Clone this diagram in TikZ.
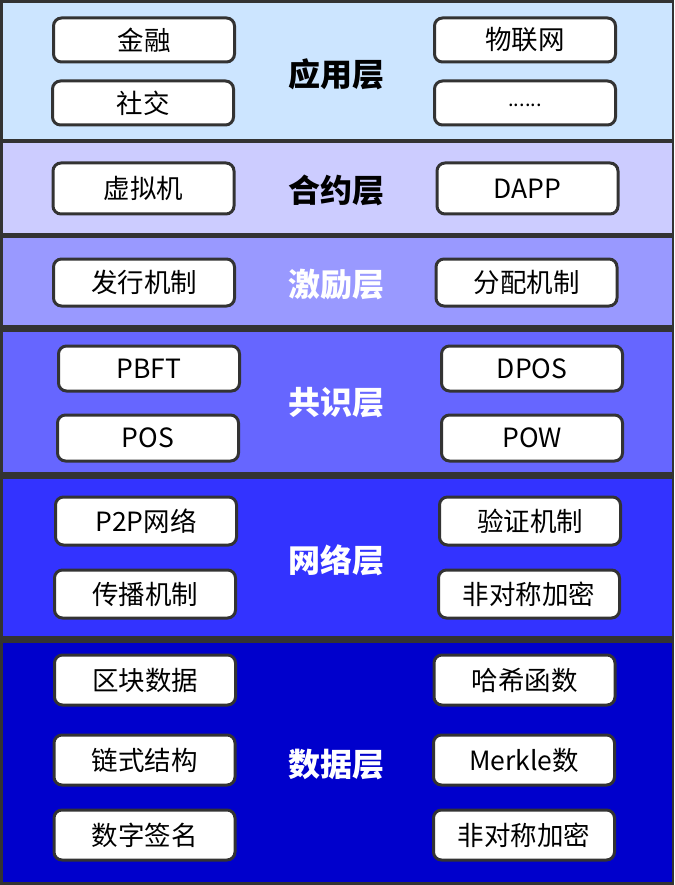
\documentclass[tikz,border=0pt]{standalone}
\usepackage{fontspec}
\setmainfont{Noto Sans CJK SC}
\definecolor{bordc}{HTML}{333333}
\definecolor{cA}{HTML}{CCE5FF}
\definecolor{cB}{HTML}{CCCCFF}
\definecolor{cC}{HTML}{9999FF}
\definecolor{cD}{HTML}{6666FF}
\definecolor{cE}{HTML}{3333FF}
\definecolor{cF}{HTML}{0000CC}
\tikzset{
  itembox/.style={draw=bordc, line width=3pt, fill=white, rounded corners=8pt,
    minimum width=181pt, minimum height=#1, inner sep=0pt,
    font=\fontsize{26.5pt}{30pt}\selectfont, text=black},
  itembox/.default=44pt,
  layertitle/.style={font=\fontsize{32pt}{36pt}\selectfont\bfseries, inner sep=0pt},
  band/.style={fill=#1, draw=none},
  divider/.style={fill=bordc, draw=none}
}
\begin{document}
\begin{tikzpicture}[x=1pt,y=-1pt]
\useasboundingbox (0,0) rectangle (674,885);
% bands
\fill[band=cA] (0,0) rectangle (674,141);
\fill[band=cB] (0,141) rectangle (674,235);
\fill[band=cC] (0,235) rectangle (674,328);
\fill[band=cD] (0,328) rectangle (674,475);
\fill[band=cE] (0,475) rectangle (674,639);
\fill[band=cF] (0,639) rectangle (674,885);
% dividers and frame
\fill[divider] (0,0) rectangle (674,3);
\fill[divider] (0,139) rectangle (674,143);
\fill[divider] (0,233) rectangle (674,238);
\fill[divider] (0,325) rectangle (674,332);
\fill[divider] (0,472) rectangle (674,479);
\fill[divider] (0,636) rectangle (674,643);
\fill[divider] (0,882) rectangle (674,885);
\fill[divider] (0,0) rectangle (2.5,885);
\fill[divider] (671.5,0) rectangle (674,885);
% layer 1
\node[layertitle] (t1) at (336,74) {应用层};
\node[itembox] (a1) at (144,40) {金融};
\node[itembox] (a2) at (143,103) {社交};
\node[itembox] (a3) at (525,40) {物联网};
\node[itembox] (a4) at (525,103) {\fontsize{20pt}{24pt}\selectfont\raisebox{-7pt}{......}};
% layer 2
\node[layertitle] (t2) at (336,190) {合约层};
\node[itembox=51pt] (b1) at (143.5,188.5) {虚拟机};
\node[itembox=51pt] (b2) at (527.5,188.5) {DAPP};
% layer 3
\node[layertitle, text=white] (t3) at (336,285) {激励层};
\node[itembox=47pt] (c1) at (144,282.5) {发行机制};
\node[itembox=47pt] (c2) at (526.5,282.5) {分配机制};
% layer 4
\node[layertitle, text=white] (t4) at (336,403) {共识层};
\node[itembox=45pt] (d1) at (149,368.5) {PBFT};
\node[itembox=46pt] (d2) at (148,438) {POS};
\node[itembox=45pt] (d3) at (532,368.5) {DPOS};
\node[itembox=46pt] (d4) at (532,438) {POW};
% layer 5
\node[layertitle, text=white] (t5) at (336,560) {网络层};
\node[itembox=48pt] (e1) at (146,521) {P2P网络};
\node[itembox=48pt] (e2) at (145,594) {传播机制};
\node[itembox=48pt] (e3) at (530,521) {验证机制};
\node[itembox=48pt] (e4) at (529,594) {非对称加密};
% layer 6
\node[layertitle, text=white] (t6) at (336,765) {数据层};
\node[itembox=50pt] (f1) at (145,680) {区块数据};
\node[itembox=50pt] (f2) at (144.5,760) {链式结构};
\node[itembox=50pt] (f3) at (144.5,835) {数字签名};
\node[itembox=50pt] (f4) at (524.5,680) {哈希函数};
\node[itembox=50pt] (f5) at (524,760) {Merkle数};
\node[itembox=50pt] (f6) at (524,835) {非对称加密};
\end{tikzpicture}
\end{document}
